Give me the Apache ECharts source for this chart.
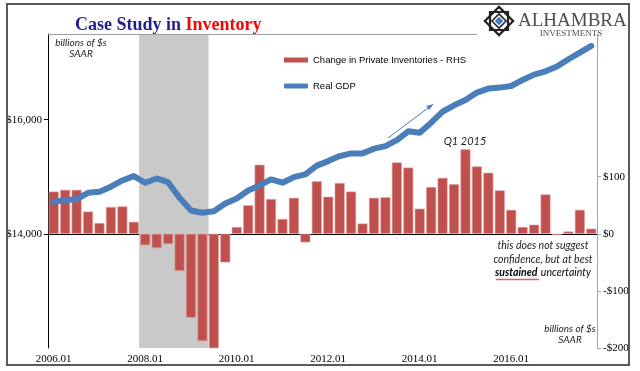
<!DOCTYPE html>
<html>
<head>
<meta charset="utf-8">
<script src="https://cdn.jsdelivr.net/npm/echarts@6/dist/echarts.min.js"></script>
<style>
html,body{margin:0;padding:0;background:#fff;}
#c{width:640px;height:371px;}
</style>
</head>
<body>
<div id="c"></div>
<script>
const categories = [
  '2006.01','2006.04','2006.07','2006.10','2007.01','2007.04','2007.07','2007.10',
  '2008.01','2008.04','2008.07','2008.10','2009.01','2009.04','2009.07','2009.10',
  '2010.01','2010.04','2010.07','2010.10','2011.01','2011.04','2011.07','2011.10',
  '2012.01','2012.04','2012.07','2012.10','2013.01','2013.04','2013.07','2013.10',
  '2014.01','2014.04','2014.07','2014.10','2015.01','2015.04','2015.07','2015.10',
  '2016.01','2016.04','2016.07','2016.10','2017.01','2017.04','2017.07','2017.10'
];
const inventories = [
  74,77,77,39,19,47,48,21,
  -20,-25,-18,-65,-147,-188,-210,-50,
  12,50,121,61,26,63,-15,92,
  65,89,74,18,63,64,125,116,
  44,82,98,87,148,118,107,76,
  42,12,16,69,-2,4,42,9
];
const realGDP = [
  14561,14590,14607,14719,14737,14825,14935,15011,
  14895,14970,14905,14632,14409,14368,14396,14532,
  14619,14760,14847,14953,14895,14993,15040,15195,
  15274,15361,15409,15409,15491,15537,15642,15795,
  15772,15947,16140,16251,16344,16474,16544,16561,
  16589,16695,16789,16847,16930,17058,17175,17291
];
const recessionStart = '2008.01';
const recessionEnd = '2009.04';
const leftTicks = [14000, 16000];
const rightTicks = [-200, -100, 0, 100];

const LEFT_MIN = 12000, LEFT_MAX = 17500;
const rs = categories.indexOf(recessionStart), re = categories.indexOf(recessionEnd);
const shade = categories.map((c, i) => (i >= rs && i <= re) ? LEFT_MAX : '-');

const serif = '"Liberation Serif", "DejaVu Serif", serif';
const chart = echarts.init(document.getElementById('c'), null, {renderer: 'canvas'});

const fmtLeft = v => leftTicks.indexOf(v) >= 0 ? '$' + v.toLocaleString('en-US') : '';
const fmtRight = v => rightTicks.indexOf(v) >= 0 ? (v < 0 ? '-$' + (-v) : '$' + v) : '';

chart.setOption({
  animation: false,
  backgroundColor: '#fff',
  title: {
    text: '{a|Case Study in }{b|Inventory}',
    left: 70, top: 11,
    textStyle: {
      rich: {
        a: {fontFamily: serif, fontSize: 18, color: '#1f1f8f'},
        b: {fontFamily: serif, fontSize: 18, color: '#ff0000', fontWeight: 'bold'}
      }
    }
  },
  legend: {
    orient: 'vertical',
    left: 279, top: 49,
    itemWidth: 24, itemHeight: 5, itemGap: 14,
    itemStyle: {borderWidth: 0},
    textStyle: {fontFamily: '"Liberation Sans", Arial, sans-serif', fontSize: 9.5, color: '#000', lineHeight: 12},
    data: [
      {name: 'Change in Private Inventories - RHS', icon: 'rect'},
      {name: 'Real GDP', icon: 'roundRect'}
    ]
  },
  grid: {left: 48, right: 43, top: 34, bottom: 23, containLabel: false},
  xAxis: [{
    type: 'category', data: categories, boundaryGap: true,
    axisLine: {lineStyle: {color: '#000', width: 1}},
    axisTick: {interval: 0, length: 4, lineStyle: {color: '#000'}},
    axisLabel: {interval: 7, fontFamily: serif, fontSize: 11, color: '#000', margin: 6},
    splitLine: {show: false}
  }, {
    type: 'category', data: categories, boundaryGap: true, show: false
  }],
  yAxis: [{
    type: 'value', min: LEFT_MIN, max: LEFT_MAX, interval: 2000, position: 'left',
    axisLine: {show: true, lineStyle: {color: '#000'}},
    axisTick: {show: true, length: 4, lineStyle: {color: '#000'}, customValues: leftTicks},
    axisLabel: {formatter: fmtLeft, fontFamily: serif, fontSize: 11, color: '#000', margin: 6,
      showMinLabel: false, showMaxLabel: false},
    splitLine: {show: true, showMinLine: false, showMaxLine: false,
      lineStyle: {color: '#b8b8b8', type: [2, 2], width: 1}}
  }, {
    type: 'value', min: -200, max: 350, interval: 100, position: 'right',
    axisLine: {show: true, lineStyle: {color: '#a6a6a6'}},
    axisTick: {show: true, length: 4, lineStyle: {color: '#a6a6a6'}, customValues: rightTicks},
    axisLabel: {formatter: fmtRight, fontFamily: serif, fontSize: 11, color: '#000', margin: 6,
      showMaxLabel: false},
    splitLine: {show: false}
  }],
  series: [{
    name: 'recession', type: 'bar', xAxisIndex: 1, yAxisIndex: 0,
    data: shade, barWidth: 12.2, z: 1, silent: true,
    itemStyle: {color: '#c9c9c9'}
  }, {
    name: 'Change in Private Inventories - RHS', type: 'bar', xAxisIndex: 0, yAxisIndex: 1,
    data: inventories, barCategoryGap: '13%', z: 2,
    itemStyle: {color: '#c0504d', borderColor: '#e0a3a1', borderWidth: 0.6}
  }, {
    name: 'Real GDP', type: 'line', xAxisIndex: 0, yAxisIndex: 0,
    data: realGDP, symbol: 'none', z: 3,
    lineStyle: {color: '#4a7ebb', width: 6, cap: 'round', join: 'round'},
    itemStyle: {color: '#4a7ebb'}
  }],
  graphic: [
    {type: 'rect', shape: {x: 7, y: 4, width: 622, height: 361}, style: {fill: 'none', stroke: '#5a5a5a', lineWidth: 2}, z: 100},
    {type: 'line', shape: {x1: 48, y1: 34.5, x2: 477, y2: 34.5}, style: {stroke: '#a0a0a0', lineWidth: 1}, z: 100},
    // logo
    {type: 'group', x: 499, y: 21, z: 100, children: [
      {type: 'rect', shape: {x: -10, y: -10, width: 20, height: 20}, rotation: Math.PI / 4, style: {fill: 'none', stroke: '#222', lineWidth: 2.2}},
      {type: 'rect', shape: {x: -9, y: -9, width: 18, height: 18}, style: {fill: 'none', stroke: '#222', lineWidth: 2.2}},
      {type: 'rect', shape: {x: -5, y: -5, width: 10, height: 10}, rotation: Math.PI / 4, style: {fill: '#fff', stroke: '#222', lineWidth: 1.5}},
      {type: 'rect', shape: {x: -3, y: -3, width: 6, height: 6}, rotation: Math.PI / 4, style: {fill: '#3d7cc9'}}
    ]},
    {type: 'text', x: 518, y: 21, z: 100, style: {text: 'ALHAMBRA', fontFamily: serif, fontSize: 19, fill: '#4d4d4d', textVerticalAlign: 'middle'}},
    {type: 'text', x: 571, y: 34, z: 100, style: {text: 'INVESTMENTS', fontFamily: serif, fontSize: 9, fill: '#4d4d4d', textAlign: 'center', textVerticalAlign: 'middle'}},
    // annotations
    {type: 'text', x: 81, y: 43, z: 100, style: {text: 'billions of $s', fontFamily: 'Lato, sans-serif', fontStyle: 'italic', fontSize: 10, fill: '#222', textAlign: 'center', textVerticalAlign: 'middle'}},
    {type: 'text', x: 81, y: 54, z: 100, style: {text: 'SAAR', fontFamily: 'Lato, sans-serif', fontStyle: 'italic', fontSize: 10, fill: '#222', textAlign: 'center', textVerticalAlign: 'middle'}},
    {type: 'text', x: 570, y: 329, z: 100, style: {text: 'billions of $s', fontFamily: 'Lato, sans-serif', fontStyle: 'italic', fontSize: 10, fill: '#222', textAlign: 'center', textVerticalAlign: 'middle'}},
    {type: 'text', x: 570, y: 340, z: 100, style: {text: 'SAAR', fontFamily: 'Lato, sans-serif', fontStyle: 'italic', fontSize: 10, fill: '#222', textAlign: 'center', textVerticalAlign: 'middle'}},
    {type: 'text', x: 465, y: 141, z: 100, style: {text: 'Q1 2015', fontFamily: 'Lato, sans-serif', fontStyle: 'italic', fontSize: 11, fill: '#222', textAlign: 'center', textVerticalAlign: 'middle'}},
    {type: 'text', x: 543, y: 246, z: 100, style: {text: 'this does not suggest', fontFamily: 'Lato, sans-serif', fontStyle: 'italic', fontSize: 10.5, fill: '#222', textAlign: 'center', textVerticalAlign: 'middle'}},
    {type: 'text', x: 543, y: 259.5, z: 100, style: {text: 'confidence, but at best', fontFamily: 'Lato, sans-serif', fontStyle: 'italic', fontSize: 10.5, fill: '#222', textAlign: 'center', textVerticalAlign: 'middle'}},
    {type: 'text', x: 543, y: 273, z: 100, style: {
      text: '{s|sustained} {u|uncertainty}', textAlign: 'center', textVerticalAlign: 'middle',
      rich: {
        s: {fontFamily: 'Lato, sans-serif', fontStyle: 'italic', fontWeight: 'bold', fontSize: 10.5, color: '#e01b1b'},
        u: {fontFamily: 'Lato, sans-serif', fontStyle: 'italic', fontSize: 10.5, color: '#222'}
      }}},
    {type: 'line', shape: {x1: 496, y1: 279.5, x2: 539, y2: 279.5}, style: {stroke: '#e06060', lineWidth: 1.5}, z: 100},
    // arrow
    {type: 'line', shape: {x1: 388, y1: 138, x2: 430, y2: 106.5}, style: {stroke: '#4a7ebb', lineWidth: 1}, z: 100},
    {type: 'polygon', shape: {points: [[433.5, 104], [429.2, 110], [426.2, 106]]}, style: {fill: '#4a7ebb'}, z: 100}
  ]
});
</script>
</body>
</html>
